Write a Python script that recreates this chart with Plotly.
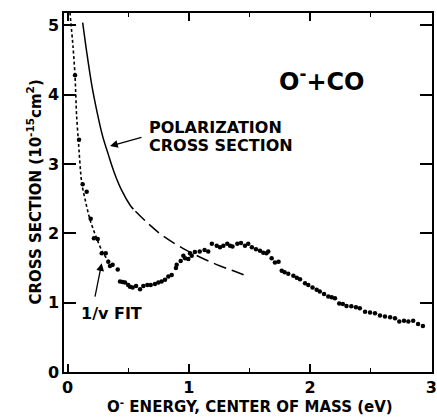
import plotly.graph_objects as go

# Measured cross section data (energy in eV, cross section in 1e-15 cm^2)
data_E = [0.062, 0.095, 0.125, 0.158, 0.191, 0.218, 0.249, 0.282, 0.315, 0.336,
          0.350, 0.372, 0.414, 0.433, 0.455, 0.474, 0.500, 0.515, 0.537, 0.565,
          0.598, 0.625, 0.658, 0.686, 0.721, 0.749, 0.776, 0.804, 0.831, 0.859,
          0.894, 0.900, 0.933, 0.955, 0.969, 0.996, 1.010, 1.024, 1.050, 1.090,
          1.130, 1.160, 1.190, 1.230, 1.257, 1.285, 1.317, 1.340, 1.360, 1.400,
          1.430, 1.463, 1.490, 1.520, 1.554, 1.587, 1.614, 1.640, 1.655, 1.683,
          1.710, 1.740, 1.766, 1.790, 1.820, 1.862, 1.890, 1.917, 1.958, 1.985,
          2.020, 2.054, 2.080, 2.115, 2.150, 2.178, 2.205, 2.240, 2.270, 2.300,
          2.340, 2.378, 2.410, 2.453, 2.494, 2.535, 2.576, 2.617, 2.660, 2.700,
          2.735, 2.774, 2.810, 2.850, 2.890, 2.930]
data_S = [4.28, 3.35, 2.71, 2.60, 2.21, 1.93, 1.92, 1.715, 1.715, 1.59,
          1.53, 1.546, 1.48, 1.305, 1.30, 1.29, 1.257, 1.23, 1.22, 1.24,
          1.195, 1.24, 1.257, 1.257, 1.27, 1.29, 1.305, 1.33, 1.377, 1.40,
          1.50, 1.546, 1.60, 1.676, 1.64, 1.63, 1.715, 1.676, 1.73, 1.74,
          1.76, 1.74, 1.85, 1.82, 1.80, 1.82, 1.85, 1.82, 1.81, 1.85,
          1.86, 1.82, 1.85, 1.80, 1.77, 1.75, 1.72, 1.715, 1.74, 1.64,
          1.58, 1.59, 1.46, 1.44, 1.416, 1.387, 1.36, 1.34, 1.28, 1.257,
          1.22, 1.185, 1.16, 1.127, 1.088, 1.08, 1.065, 0.99, 0.98, 0.954,
          0.95, 0.935, 0.92, 0.87, 0.857, 0.848, 0.814, 0.80, 0.79, 0.776,
          0.727, 0.74, 0.727, 0.74, 0.694, 0.665]

# 1/v fit curve
fit_E = [0.020, 0.045, 0.062, 0.075, 0.089, 0.117, 0.150, 0.185, 0.240, 0.295, 0.378]
fit_S = [5.19, 4.70, 4.27, 3.70, 3.35, 2.73, 2.45, 2.20, 1.93, 1.71, 1.52]

# Polarization cross section (solid part, then long-dashed part)
pol_solid_E = [0.125, 0.158, 0.200, 0.245, 0.290, 0.336, 0.385, 0.447, 0.515, 0.543]
pol_solid_S = [5.04, 4.62, 4.14, 3.74, 3.40, 3.14, 2.88, 2.62, 2.41, 2.35]
pol_dash_E = [0.560, 0.666, 0.790, 0.955, 1.090, 1.230, 1.367, 1.477]
pol_dash_S = [2.32, 2.14, 1.96, 1.78, 1.66, 1.55, 1.46, 1.387]

x_ticks = [0, 1, 2, 3]
y_ticks = [0, 1, 2, 3, 4, 5]

FONT = "DejaVu Sans"

fig = go.Figure()
fig.add_trace(go.Scatter(x=fit_E, y=fit_S, mode="lines",
                         line=dict(color="black", width=1.6, dash="3px,2.5px", shape="spline", smoothing=0.8),
                         hoverinfo="skip"))
fig.add_trace(go.Scatter(x=pol_solid_E, y=pol_solid_S, mode="lines",
                         line=dict(color="black", width=1.5, shape="spline", smoothing=1.0),
                         hoverinfo="skip"))
fig.add_trace(go.Scatter(x=pol_dash_E, y=pol_dash_S, mode="lines",
                         line=dict(color="black", width=1.5, dash="13px,6px", shape="spline", smoothing=1.0),
                         hoverinfo="skip"))
fig.add_trace(go.Scatter(x=data_E, y=data_S, mode="markers",
                         marker=dict(color="black", size=4.5),
                         hoverinfo="skip"))

axis_common = dict(showline=True, linecolor="black", linewidth=1.5, mirror="ticks",
                   ticks="inside", tickcolor="black", tickwidth=1.5, showgrid=False,
                   zeroline=False, automargin=False,
                   tickfont=dict(family=FONT, size=16, color="black", weight="bold"))

fig.update_xaxes(range=[-0.029, 3.005], tickvals=x_ticks, ticklen=8,
                 minor=dict(dtick=0.5, ticks="inside", ticklen=4, tickcolor="black", tickwidth=1.2),
                 **axis_common)
fig.update_yaxes(range=[0, 5.18], tickvals=y_ticks, ticklen=12, **axis_common)

bold = lambda s: dict(family=FONT, size=s, color="black", weight="bold")

annotations = [
    dict(xref="paper", yref="paper", x=0.505, y=0, yshift=-34, xanchor="center", yanchor="middle",
         text="O<sup>-</sup> ENERGY, CENTER OF MASS (eV)", showarrow=False, font=bold(15)),
    dict(xref="paper", yref="paper", x=0, y=0.5, xshift=-30, xanchor="center", yanchor="middle",
         textangle=-90, text="CROSS SECTION (10<sup>-15</sup>cm<sup>2</sup>)", showarrow=False, font=bold(15)),
    dict(xref="paper", yref="paper", x=0.701, y=0.813, xanchor="center", yanchor="middle",
         text="O<sup>-</sup>+CO", showarrow=False, font=bold(24)),
    dict(xref="paper", yref="paper", x=0.2255, y=0.682, xanchor="left", yanchor="middle",
         text="POLARIZATION", showarrow=False, font=bold(16)),
    dict(xref="paper", yref="paper", x=0.2255, y=0.632, xanchor="left", yanchor="middle",
         text="CROSS SECTION", showarrow=False, font=bold(16)),
    dict(xref="paper", yref="paper", x=0.130, y=0.1616, xanchor="center", yanchor="middle",
         text="1/v FIT", showarrow=False, font=bold(16)),
    dict(x=0.35, y=3.26, text="", showarrow=True, ax=33, ay=-9, arrowhead=2,
         arrowsize=1.2, arrowwidth=1.3, arrowcolor="black"),
    dict(x=0.282, y=1.57, text="", showarrow=True, ax=-7, ay=35, arrowhead=2,
         arrowsize=1.2, arrowwidth=1.3, arrowcolor="black"),
]

fig.update_layout(width=437, height=417, margin=dict(l=64, r=5, t=13, b=45),
                  paper_bgcolor="white", plot_bgcolor="white", showlegend=False,
                  annotations=annotations)

fig.write_html("out.html", config={"displayModeBar": False},
               post_script="document.body.style.margin='0';document.body.style.overflow='hidden';")
